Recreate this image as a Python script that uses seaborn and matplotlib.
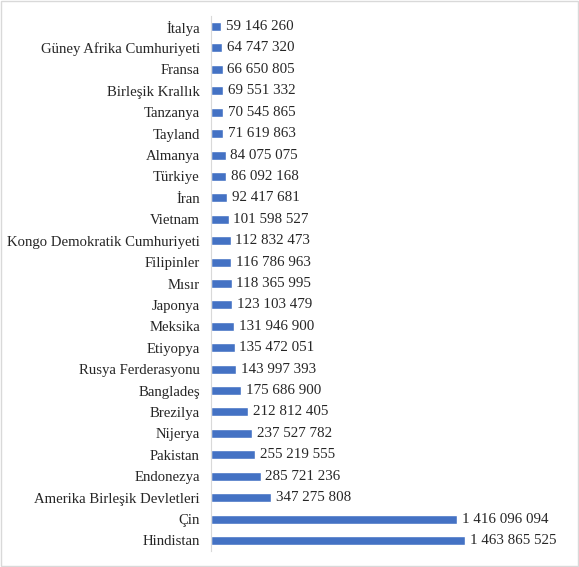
import matplotlib
matplotlib.use("Agg")
import matplotlib.pyplot as plt
import seaborn as sns
import pandas as pd

countries = ["İtalya", "Güney Afrika Cumhuriyeti", "Fransa", "Birleşik Krallık", "Tanzanya",
             "Tayland", "Almanya", "Türkiye", "İran", "Vietnam",
             "Kongo Demokratik Cumhuriyeti", "Filipinler", "Mısır", "Japonya", "Meksika",
             "Etiyopya", "Rusya Ferderasyonu", "Bangladeş", "Brezilya", "Nijerya",
             "Pakistan", "Endonezya", "Amerika Birleşik Devletleri", "Çin", "Hindistan"]
population = [59146260, 64747320, 66650805, 69551332, 70545865,
              71619863, 84075075, 86092168, 92417681, 101598527,
              112832473, 116786963, 118365995, 123103479, 131946900,
              135472051, 143997393, 175686900, 212812405, 237527782,
              255219555, 285721236, 347275808, 1416096094, 1463865525]

df = pd.DataFrame({"country": countries, "pop": population})

sns.set_style("white")
plt.rcParams["font.family"] = ["Liberation Serif", "DejaVu Serif"]

fig = plt.figure(figsize=(5.79, 5.67), dpi=100)
ax = fig.add_axes([0.3644, 0.028, 0.586, 0.944])
sns.barplot(data=df, x="pop", y="country", color="#4472C4", saturation=1,
            width=0.42, ax=ax)

for i, v in enumerate(population):
    lab = f"{v:,}".replace(",", " ")
    ax.text(v + 0.028e9, i, lab, va="center", ha="left", fontsize=10.8, color="#262626")

ax.set_xlim(0, 1.954e9)
ax.set_ylim(len(countries) - 0.5, -0.5)
ax.set_xlabel("")
ax.set_ylabel("")
ax.set_xticks([])
ax.tick_params(axis="y", length=0, labelsize=10.6, labelcolor="#262626", pad=8)
for s in ["top", "right", "bottom"]:
    ax.spines[s].set_visible(False)
ax.spines["left"].set_color("#d9d9d9")

fig.patches.append(plt.Rectangle((0.002, 0.002), 0.996, 0.996, transform=fig.transFigure,
                                 fill=False, edgecolor="#d9d9d9", linewidth=1))
fig.savefig("out.png", dpi=100)
